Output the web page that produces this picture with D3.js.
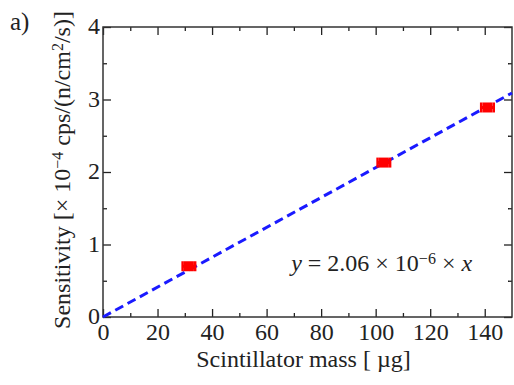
<!DOCTYPE html>
<html>
<head>
<meta charset="utf-8">
<script src="https://cdn.jsdelivr.net/npm/d3@7"></script>
<style>
  body { margin: 0; background: #fff; }
  svg text { font-family: "Liberation Serif", "Times New Roman", serif; fill: #222; }
</style>
</head>
<body>
<div id="chart"></div>
<script>
// measured points
const massUg = [31.5, 103, 141];
const sensitivity = [0.70, 2.13, 2.89];
const massErr = [2.3, 2.3, 2.3];
// linear fit through origin, in units of 1e-4
const fitSlope = 0.0206;
const xTicks = [0, 20, 40, 60, 80, 100, 120, 140];
const yTicks = [0, 1, 2, 3, 4];

const width = 514, height = 385;
const margin = {top: 27, right: 2, bottom: 68, left: 103};
const innerW = width - margin.left - margin.right;
const innerH = height - margin.top - margin.bottom;

const svg = d3.select('#chart').append('svg')
  .attr('width', width)
  .attr('height', height);

const g = svg.append('g')
  .attr('transform', `translate(${margin.left},${margin.top})`);

const x = d3.scaleLinear().domain([0, 150]).range([0, innerW]);
const y = d3.scaleLinear().domain([0, 4]).range([innerH, 0]);

// minor ticks (inward)
const xMinor = d3.range(10, 150, 20);
const yMinor = d3.range(0.5, 4, 1);

function styleAxis(sel) {
  sel.select('.domain').remove();
  sel.selectAll('line').attr('stroke', '#222').attr('stroke-width', 1.3);
}

g.append('g').attr('transform', `translate(0,${innerH})`)
  .call(d3.axisBottom(x).tickValues(xTicks).tickSize(-8).tickPadding(6))
  .call(styleAxis)
  .call(s => s.selectAll('text').attr('font-size', 24).attr('fill', '#222'));
g.append('g').attr('transform', `translate(0,${innerH})`)
  .call(d3.axisBottom(x).tickValues(xMinor).tickSize(-4).tickFormat(''))
  .call(styleAxis);
g.append('g')
  .call(d3.axisTop(x).tickValues(xTicks).tickSize(-8).tickFormat(''))
  .call(styleAxis);
g.append('g')
  .call(d3.axisTop(x).tickValues(xMinor).tickSize(-4).tickFormat(''))
  .call(styleAxis);

g.append('g')
  .call(d3.axisLeft(y).tickValues(yTicks).tickSize(-8).tickPadding(3).tickFormat(d3.format('d')))
  .call(styleAxis)
  .call(s => s.selectAll('text').attr('font-size', 24).attr('fill', '#222').attr('dy', '0.28em'));
g.append('g')
  .call(d3.axisLeft(y).tickValues(yMinor).tickSize(-4).tickFormat(''))
  .call(styleAxis);
g.append('g').attr('transform', `translate(${innerW},0)`)
  .call(d3.axisRight(y).tickValues(yTicks).tickSize(-8).tickFormat(''))
  .call(styleAxis);
g.append('g').attr('transform', `translate(${innerW},0)`)
  .call(d3.axisRight(y).tickValues(yMinor).tickSize(-4).tickFormat(''))
  .call(styleAxis);

// frame
g.append('rect')
  .attr('width', innerW).attr('height', innerH)
  .attr('fill', 'none').attr('stroke', '#333').attr('stroke-width', 1.5);

// fit line
const line = d3.line().x(d => x(d)).y(d => y(fitSlope * d));
g.append('path')
  .datum([0, 150])
  .attr('d', line)
  .attr('fill', 'none')
  .attr('stroke', '#1a1aff')
  .attr('stroke-width', 3)
  .attr('stroke-dasharray', '9,5');

// data points with error bars
const pts = d3.range(massUg.length).map(i => ({m: massUg[i], s: sensitivity[i], e: massErr[i]}));
const pg = g.selectAll('.pt').data(pts).enter().append('g').attr('class', 'pt');
pg.append('line')
  .attr('x1', d => x(d.m - d.e)).attr('x2', d => x(d.m + d.e))
  .attr('y1', d => y(d.s)).attr('y2', d => y(d.s))
  .attr('stroke', 'red').attr('stroke-width', 3);
pg.append('line')
  .attr('x1', d => x(d.m - d.e)).attr('x2', d => x(d.m - d.e))
  .attr('y1', d => y(d.s) - 5).attr('y2', d => y(d.s) + 5)
  .attr('stroke', 'red').attr('stroke-width', 2.5);
pg.append('line')
  .attr('x1', d => x(d.m + d.e)).attr('x2', d => x(d.m + d.e))
  .attr('y1', d => y(d.s) - 5).attr('y2', d => y(d.s) + 5)
  .attr('stroke', 'red').attr('stroke-width', 2.5);
pg.append('rect')
  .attr('x', d => x(d.m) - 5).attr('y', d => y(d.s) - 5)
  .attr('width', 10).attr('height', 10)
  .attr('fill', 'red');

// equation
const eq = g.append('text')
  .attr('x', x(69)).attr('y', y(0.64))
  .attr('font-size', 24);
eq.append('tspan').attr('font-style', 'italic').text('y');
eq.append('tspan').text(' = 2.06 × 10');
eq.append('tspan').attr('font-size', 16).attr('baseline-shift', '45%').text('−6');
eq.append('tspan').text(' × ');
eq.append('tspan').attr('font-style', 'italic').text('x');

// axis titles
svg.append('text')
  .attr('x', margin.left + innerW / 2 - 4).attr('y', 367)
  .attr('text-anchor', 'middle')
  .attr('font-size', 24)
  .text('Scintillator mass [ µg]');

const yl = svg.append('text')
  .attr('transform', `translate(70,170) rotate(-90)`)
  .attr('text-anchor', 'middle')
  .attr('font-size', 24);
yl.append('tspan').text('Sensitivity [× 10');
yl.append('tspan').attr('font-size', 16).attr('baseline-shift', '45%').text('−4');
yl.append('tspan').text(' cps/(n/cm');
yl.append('tspan').attr('font-size', 16).attr('baseline-shift', '45%').text('2');
yl.append('tspan').text('/s)]');

svg.append('text')
  .attr('x', 10).attr('y', 30)
  .attr('font-size', 25)
  .text('a)');
</script>
</body>
</html>
